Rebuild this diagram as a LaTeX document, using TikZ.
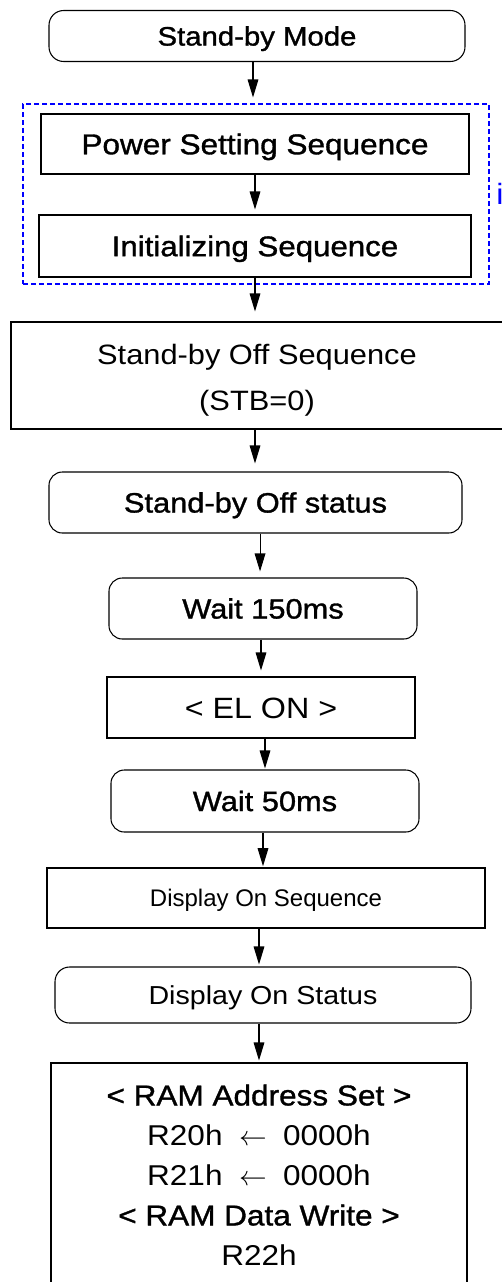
\documentclass[tikz,border=0pt]{standalone}
\usepackage{fontspec}
\setmainfont{Liberation Sans}[FakeStretch=1.1]
\newfontfamily\boldish{Liberation Sans}[FakeStretch=1.1, FakeBold=1.2]
\newfontfamily\plainf{Liberation Sans}
\usetikzlibrary{arrows.meta}
\tikzset{
  wpx/.style={minimum width=#1*0.75pt},
  hpx/.style={minimum height=#1*0.75pt},
  fs/.style={font=\fontsize{#1}{#1}\selectfont, text height=#1*0.716pt, text depth=0pt},
  fsb/.style={font=\boldish\fontsize{#1}{#1}\selectfont, text height=#1*0.716pt, text depth=0pt},
  box/.style={draw=black, line width=0.8pt, inner sep=0pt, align=center},
  rbox/.style={box, rounded corners=10pt},
  arr/.style={draw=black, line width=0.8pt, -{Triangle[length=13.5pt,width=8pt]}},
}
\begin{document}
\begin{tikzpicture}[x=0.75pt, y=-0.75pt]
\useasboundingbox (0,0) rectangle (502,1282);
\clip (0,0) rectangle (502,1282);
\fill[white] (0,0) rectangle (502,1282);

\node[rbox, rounded corners=11pt, wpx=416, hpx=51, fsb=20] (mode) at (257,36) {Stand-by Mode};
\node[draw=blue, dash pattern=on 3.75pt off 2.25pt, line width=0.8pt, inner sep=0pt, wpx=466, hpx=180] (grp) at (256,194) {};
\node[box, wpx=428, hpx=60, fsb=21.5] (power) at (255,144) {Power Setting Sequence};
\node[box, wpx=432, hpx=62, fsb=21.3] (init) at (255,246) {Initializing Sequence};
\node[text=blue, anchor=base west, inner sep=0pt, fs=22] (itxt) at (496,204) {i};
\node[box, wpx=492, hpx=107] (sbo) at (257,375.5) {};
\node[inner sep=0pt, align=center, font=\fontsize{21}{34.5}\selectfont] (sbotxt) at (257,380.5) {Stand-by Off Sequence\\(STB=0)};
\node[rbox, wpx=413, hpx=61, fsb=21] (sbs) at (255.5,502.5) {Stand-by Off status};
\node[rbox, wpx=308, hpx=61, fsb=21] (w150) at (263,608.5) {Wait 150ms};
\node[box, wpx=308, hpx=61, fs=22] (elon) at (261,707.5) {<\ EL\ ON\ >};
\node[rbox, wpx=308, hpx=62, fsb=21] (w50) at (265,801) {Wait 50ms};
\node[box, line width=1.2pt, wpx=438, hpx=60, font=\plainf\fontsize{18}{18}\selectfont, text height=12.9pt, text depth=0pt] (dos) at (266,898) {Display On Sequence};
\node[rbox, rounded corners=11pt, wpx=416, hpx=56, fs=19.5] (dost) at (263,995) {Display On Status};
\node[box, wpx=416, hpx=240] (ram) at (259,1183) {};
\node[inner sep=0pt, align=center, font=\fontsize{21.5}{30}\selectfont] (ramtxt) at (259,1175)
  {{\boldish <\ RAM Address Set\ >}\\R20h ${}\leftarrow{}$ 0000h\\R21h ${}\leftarrow{}$ 0000h\\{\boldish <\ RAM Data Write\ >}\\R22h};

\draw[arr, shorten >=4.5pt] ([xshift=-3pt]mode.south) -- ([xshift=-3pt]mode.south |- grp.north);
\draw[arr, shorten >=3.75pt] (power.south) -- (power.south |- init.north);
\draw[arr, shorten >=7.5pt] (init.south) -- (init.south |- sbo.north);
\draw[arr, shorten >=6pt] ([xshift=-1.5pt]sbo.south) -- ([xshift=-1.5pt]sbo.south |- sbs.north);
\draw[arr, shorten >=4.5pt] ([xshift=3.4pt]sbs.south) -- ([xshift=3.4pt]sbs.south |- w150.north);
\draw[arr, shorten >=4.5pt] ([xshift=-1.5pt]w150.south) -- ([xshift=-1.5pt]w150.south |- elon.north);
\draw[arr, shorten >=0.75pt] ([xshift=3pt]elon.south) -- ([xshift=3pt]elon.south |- w50.north);
\draw[arr, shorten >=0.75pt] ([xshift=-1.5pt]w50.south) -- ([xshift=-1.5pt]w50.south |- dos.north);
\draw[arr, shorten >=1.5pt] ([xshift=-5.25pt]dos.south) -- ([xshift=-5.25pt]dos.south |- dost.north);
\draw[arr, shorten >=1.5pt] ([xshift=-3pt]dost.south) -- ([xshift=-3pt]dost.south |- ram.north);
\end{tikzpicture}
\end{document}
